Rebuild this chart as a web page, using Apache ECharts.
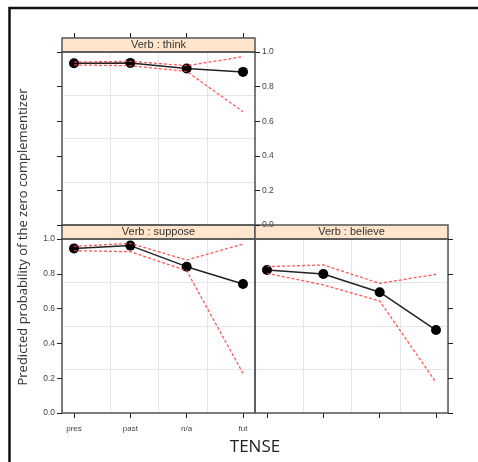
<!DOCTYPE html>
<html><head><meta charset="utf-8">
<script src="https://cdn.jsdelivr.net/npm/echarts@6/dist/echarts.min.js"></script>
<style>html,body{margin:0;padding:0;background:#fff}#c{width:478px;height:462px}</style>
</head><body><div id="c"></div>
<script>
// ---- data ----
const tenses = ['pres', 'past', 'n/a', 'fut'];
const panelTitles = ['Verb : think', 'Verb : suppose', 'Verb : believe'];
const yTickValues = [0, 0.2, 0.4, 0.6, 0.8, 1.0];
const thinkFit = [0.935, 0.937, 0.905, 0.885];
const thinkUpper = [0.942, 0.946, 0.921, 0.973];
const thinkLower = [0.925, 0.921, 0.888, 0.655];
const supposeFit = [0.946, 0.962, 0.841, 0.741];
const supposeUpper = [0.958, 0.975, 0.879, 0.971];
const supposeLower = [0.933, 0.927, 0.818, 0.228];
const believeFit = [0.822, 0.799, 0.694, 0.477];
const believeUpper = [0.841, 0.851, 0.745, 0.797];
const believeLower = [0.803, 0.736, 0.644, 0.176];
const yTitle = 'Predicted probability of the zero complementizer';
const xTitle = 'TENSE';

// ---- layout ----
const rects = [
  {left: 62, top: 52, width: 193, height: 173},
  {left: 62, top: 239, width: 193, height: 174},
  {left: 255, top: 239, width: 193, height: 174}
];
const stripH = 14;
const fits = [thinkFit, supposeFit, believeFit];
const uppers = [thinkUpper, supposeUpper, believeUpper];
const lowers = [thinkLower, supposeLower, believeLower];

const chart = echarts.init(document.getElementById('c'), null, {renderer: 'canvas'});
const tickFont = 'Liberation Sans';
const tickIdx = tenses.map((_, i) => i);

const grids = [];
rects.forEach(r => grids.push(Object.assign({show: true, borderColor: '#555', borderWidth: 1.5, backgroundColor: 'transparent', z: 3}, r)));
rects.forEach(r => grids.push(Object.assign({show: false}, r)));

function xAx(grid, pos, opts) {
  return Object.assign({
    type: 'value', gridIndex: grid, position: pos, min: -0.213, max: 3.213,
    axisLine: {show: false, onZero: false},
    axisTick: {show: true, length: 5, inside: false, customValues: tickIdx, lineStyle: {color: '#222', width: 1}},
    axisLabel: {show: false, customValues: tickIdx, formatter: v => tenses[Math.round(v)], fontSize: 8, color: '#444', fontFamily: tickFont, margin: 12},
    splitLine: {show: false}
  }, opts || {});
}
function yAx(grid, pos, showLabel) {
  return {
    type: 'value', gridIndex: grid, position: pos, min: 0, max: 1, interval: 0.2, z: 10,
    axisLine: {show: false, onZero: false},
    axisTick: {show: true, length: 5, lineStyle: {color: '#222', width: 1}},
    axisLabel: {show: showLabel, formatter: v => v.toFixed(1), fontSize: 8.5, color: '#444', fontFamily: tickFont, margin: 7},
    splitLine: {show: false}
  };
}
function gridAxis(grid) {
  return {
    type: 'value', gridIndex: grid, min: 0, max: 4, interval: 1,
    axisLine: {show: false, onZero: false}, axisTick: {show: false}, axisLabel: {show: false},
    splitLine: {show: true, lineStyle: {color: '#e6e6e6', width: 1}}
  };
}

const xAxes = [
  xAx(0, 'top', {offset: stripH}),
  (() => { const a = xAx(1, 'bottom'); a.axisLabel.show = true; return a; })(),
  xAx(2, 'bottom'),
  gridAxis(3), gridAxis(4), gridAxis(5)
];
const yAxes = [
  yAx(0, 'left', false),
  yAx(0, 'right', true),
  yAx(1, 'left', true),
  yAx(2, 'right', false),
  gridAxis(3), gridAxis(4), gridAxis(5)
];
const mainY = [0, 2, 3];

const series = [];
for (let p = 0; p < 3; p++) {
  const mk = arr => arr.map((v, i) => [i, v]);
  series.push({
    type: 'line', xAxisIndex: p, yAxisIndex: mainY[p], data: mk(fits[p]),
    symbol: 'circle', symbolSize: 10, itemStyle: {color: '#000'},
    lineStyle: {color: '#222', width: 1.5}, z: 4, animation: false
  });
  [uppers[p], lowers[p]].forEach(arr => series.push({
    type: 'line', xAxisIndex: p, yAxisIndex: mainY[p], data: mk(arr),
    symbol: 'none', lineStyle: {color: '#ff3b3b', width: 1.3, type: [3, 2], opacity: 0.85}, z: 5, animation: false
  }));
}
for (let g = 3; g < 6; g++) series.push({type: 'line', xAxisIndex: g, yAxisIndex: g + 1, data: [], animation: false});

const graphics = [];
rects.forEach((r, i) => {
  graphics.push({
    type: 'rect', z: 2,
    shape: {x: r.left, y: r.top - stripH, width: r.width, height: stripH},
    style: {fill: '#ffe5cc', stroke: '#555', lineWidth: 1.5}
  });
  graphics.push({
    type: 'text', z: 3, x: r.left + r.width / 2, y: r.top - stripH / 2,
    style: {text: panelTitles[i], fill: '#333', font: '11px "Liberation Sans"', textAlign: 'center', textVerticalAlign: 'middle'}
  });
});
graphics.push({
  type: 'text', x: 23, y: 237, rotation: Math.PI / 2,
  style: {text: yTitle, fill: '#333', font: '13px "Open Sans"', textAlign: 'center', textVerticalAlign: 'middle'}
});
graphics.push({
  type: 'text', x: 255, y: 447,
  style: {text: xTitle, fill: '#222', font: '17px "Open Sans"', textAlign: 'center', textVerticalAlign: 'middle'}
});
graphics.push({
  type: 'rect', shape: {x: 9.5, y: 8, width: 700, height: 700},
  style: {fill: 'none', stroke: '#111', lineWidth: 2.5}
});

chart.setOption({
  animation: false,
  backgroundColor: '#fff',
  grid: grids,
  xAxis: xAxes,
  yAxis: yAxes,
  series: series,
  graphic: graphics
});
</script></body></html>
